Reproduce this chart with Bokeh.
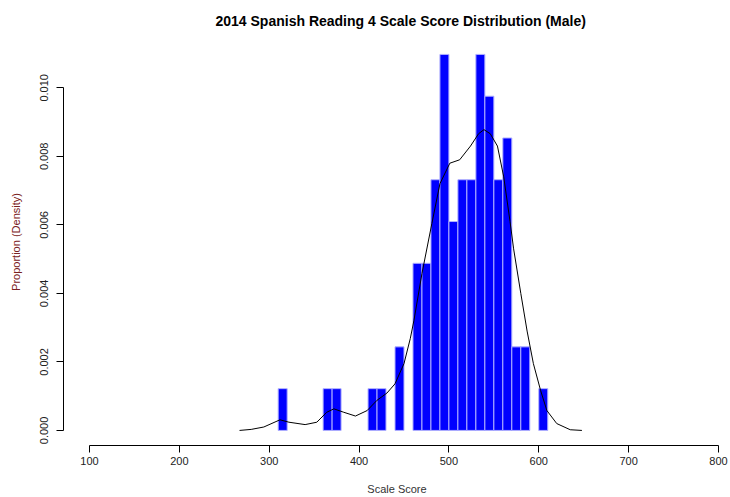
from bokeh.plotting import figure
from bokeh.models import FixedTicker, PrintfTickFormatter, Range1d, ColumnDataSource
from bokeh.embed import file_html
from bokeh.resources import INLINE

# Histogram data (10-point bins), counts of students
bin_starts = [310, 360, 370, 410, 420, 440, 460, 470, 480, 490, 500, 510,
              520, 530, 540, 550, 560, 570, 580, 600]
bin_counts = [1, 1, 1, 1, 1, 2, 4, 4, 6, 9, 5, 6, 6, 9, 8, 6, 7, 2, 2, 1]
bin_width = 10

# Density curve
curve_x = [267, 280, 294, 312, 322, 340, 353, 364, 372, 383, 396, 409, 420,
           431, 440, 450, 457, 461, 470, 481, 490, 501, 512, 524, 533, 539,
           546, 554, 561, 568, 572, 580, 587, 594, 602, 609, 620, 635, 648]
curve_y = [0.0, 0.00003, 0.0001, 0.00031, 0.00024, 0.00017, 0.00024, 0.00053,
           0.00063, 0.00053, 0.00042, 0.00058, 0.00088, 0.00109, 0.00136,
           0.00195, 0.00268, 0.0032, 0.00458, 0.00604, 0.0072, 0.0078, 0.0079,
           0.0083, 0.00866, 0.00878, 0.00866, 0.0083, 0.0074, 0.0061, 0.0053,
           0.0040, 0.0029, 0.00195, 0.00117, 0.00058, 0.0002, 0.00002, 0.0]

x_ticks = [100, 200, 300, 400, 500, 600, 700, 800]
y_ticks = [0.0, 0.002, 0.004, 0.006, 0.008, 0.010]

total = sum(bin_counts)
src = ColumnDataSource(dict(
    left=bin_starts,
    right=[b + bin_width for b in bin_starts],
    top=[c / (total * bin_width) for c in bin_counts],
    bottom=[0] * len(bin_starts),
))

p = figure(width=730, height=497, output_backend="svg", toolbar_location=None,
           x_range=Range1d(71.1, 813.35), y_range=Range1d(-0.00044, 0.01144),
           min_border_left=63, min_border_right=0, min_border_top=38,
           min_border_bottom=52,
           title="2014  Spanish Reading 4 Scale Score Distribution (Male)")

p.quad(left="left", right="right", top="top", bottom="bottom", source=src,
       fill_color="#0000ff", line_color="#b0b0ff", line_width=1)
p.line(curve_x, curve_y, line_color="black", line_width=1)

p.title.align = "left"
p.title.offset = 152
p.title.standoff = 20
p.title.text_font = "Liberation Sans"
p.title.text_font_size = "14px"
p.title.text_font_style = "bold"
p.title.text_color = "black"

p.xgrid.visible = False
p.ygrid.visible = False
p.outline_line_color = None

xa = p.xaxis[0]
xa.ticker = FixedTicker(ticks=x_ticks)
xa.bounds = (100, 800)
xa.minor_tick_line_color = None
xa.major_tick_out = 7
xa.major_tick_in = 0
xa.major_label_standoff = 4
xa.major_label_text_font = "Liberation Sans"
xa.major_label_text_font_size = "11px"
xa.major_label_text_color = "#222222"
xa.axis_label = "Scale Score"
xa.axis_label_text_font = "Liberation Sans"
xa.axis_label_text_font_size = "11px"
xa.axis_label_text_font_style = "normal"
xa.axis_label_text_color = "#333333"
xa.axis_label_standoff = 15
xa.axis_line_color = "black"

ya = p.yaxis[0]
ya.ticker = FixedTicker(ticks=y_ticks)
ya.formatter = PrintfTickFormatter(format="%.3f")
ya.bounds = (0, 0.010)
ya.minor_tick_line_color = None
ya.major_tick_out = 7
ya.major_tick_in = 0
ya.major_label_orientation = "vertical"
ya.major_label_standoff = 8
ya.major_label_text_font = "Liberation Sans"
ya.major_label_text_font_size = "11px"
ya.major_label_text_color = "#222222"
ya.axis_label = "Proportion (Density)"
ya.axis_label_text_font = "Liberation Sans"
ya.axis_label_text_font_size = "11px"
ya.axis_label_text_font_style = "normal"
ya.axis_label_text_color = "#7a2020"
ya.axis_label_standoff = 16
ya.axis_line_color = "black"

open("out.html", "w").write(file_html(p, INLINE))
